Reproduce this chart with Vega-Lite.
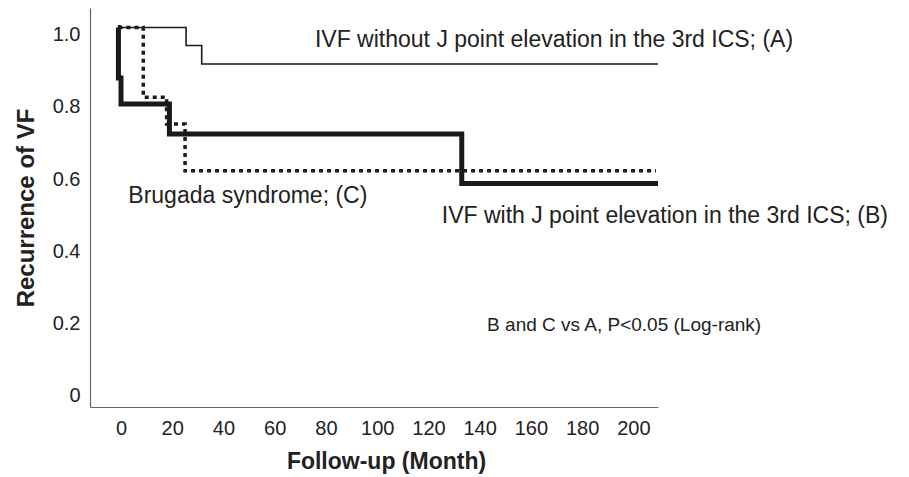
{
  "$schema": "https://vega.github.io/schema/vega-lite/v6.json",
  "autosize": {"type": "none"},
  "width": 568,
  "height": 399,
  "padding": {"left": 90, "top": 8, "right": 251, "bottom": 70},
  "background": "white",
  "datasets": {
    "curves": [
      {"series": "A", "t": -1.0, "s": 1.02},
      {"series": "A", "t": 25.4, "s": 0.97},
      {"series": "A", "t": 31.5, "s": 0.919},
      {"series": "A", "t": 209.6, "s": 0.919},
      {"series": "B", "t": -1.2, "s": 1.02},
      {"series": "B", "t": -1.0, "s": 0.88},
      {"series": "B", "t": 0.0, "s": 0.808},
      {"series": "B", "t": 18.9, "s": 0.725},
      {"series": "B", "t": 133.0, "s": 0.588},
      {"series": "B", "t": 209.6, "s": 0.588},
      {"series": "C", "t": -1.0, "s": 1.02},
      {"series": "C", "t": 8.7, "s": 0.827},
      {"series": "C", "t": 17.8, "s": 0.753},
      {"series": "C", "t": 25.0, "s": 0.623},
      {"series": "C", "t": 208.8, "s": 0.623}
    ],
    "notes": [
      {"label": "IVF without J point elevation in the 3rd ICS; (A)", "t": 75.7, "s": 0.965},
      {"label": "Brugada syndrome; (C)", "t": 2.85, "s": 0.533},
      {"label": "IVF with J point elevation in the 3rd ICS; (B)", "t": 125.2, "s": 0.479}
    ],
    "pnote": [
      {"label": "B and C vs A, P<0.05 (Log-rank)", "t": 142.9, "s": 0.179}
    ]
  },
  "encoding": {
    "x": {
      "field": "t", "type": "quantitative",
      "scale": {"domain": [-12.1, 209.6], "nice": false, "zero": false},
      "axis": {
        "title": "Follow-up (Month)",
        "values": [0, 20, 40, 60, 80, 100, 120, 140, 160, 180, 200],
        "grid": false, "ticks": false,
        "domainColor": "#666", "domainWidth": 1.2,
        "labelFont": "Liberation Sans", "labelFontSize": 20, "labelColor": "#222",
        "labelPadding": 11, "labelFlush": false,
        "titleFont": "Liberation Sans", "titleFontSize": 23, "titleFontWeight": "bold", "titleColor": "#222",
        "titleX": 296, "titleY": 61, "titleBaseline": "alphabetic", "titleAlign": "center"
      }
    },
    "y": {
      "field": "s", "type": "quantitative",
      "scale": {"domain": [-0.031, 1.074], "nice": false, "zero": false},
      "axis": {
        "title": "Recurrence of VF",
        "values": [0, 0.2, 0.4, 0.6, 0.8, 1.0],
        "labelExpr": "datum.value == 0 ? '0' : format(datum.value, '.1f')",
        "grid": false, "ticks": false,
        "domainColor": "#666", "domainWidth": 1.2,
        "labelFont": "Liberation Sans", "labelFontSize": 20, "labelColor": "#222",
        "labelPadding": 10,
        "titleFont": "Liberation Sans", "titleFontSize": 24, "titleFontWeight": "bold", "titleColor": "#222",
        "titleX": -57, "titleBaseline": "alphabetic"
      }
    }
  },
  "layer": [
    {
      "data": {"name": "curves"},
      "transform": [{"filter": "datum.series == 'A'"}],
      "mark": {"type": "line", "interpolate": "step-after", "color": "#1a1a1a", "strokeWidth": 1.6}
    },
    {
      "data": {"name": "curves"},
      "transform": [{"filter": "datum.series == 'B'"}],
      "mark": {"type": "line", "interpolate": "step-after", "color": "#1a1a1a", "strokeWidth": 5}
    },
    {
      "data": {"name": "curves"},
      "transform": [{"filter": "datum.series == 'C'"}],
      "mark": {"type": "line", "interpolate": "step-after", "color": "#1a1a1a", "strokeWidth": 3.5, "strokeDash": [4, 4]}
    },
    {
      "data": {"name": "notes"},
      "mark": {"type": "text", "align": "left", "baseline": "alphabetic", "font": "Liberation Sans", "fontSize": 23, "color": "#222"},
      "encoding": {"text": {"field": "label"}}
    },
    {
      "data": {"name": "pnote"},
      "mark": {"type": "text", "align": "left", "baseline": "alphabetic", "font": "Liberation Sans", "fontSize": 19, "color": "#222"},
      "encoding": {"text": {"field": "label"}}
    }
  ],
  "config": {"view": {"stroke": null}}
}
